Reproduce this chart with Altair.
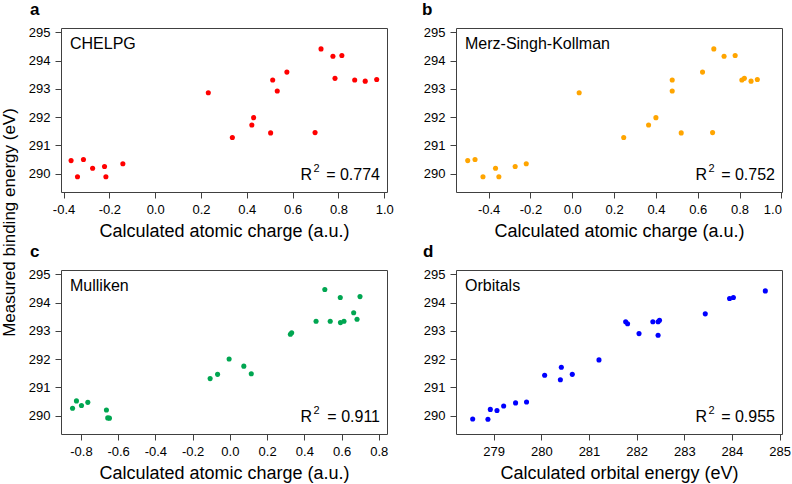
import altair as alt
import pandas as pd

# Measured C 1s binding energies against four computed descriptors
chelpg_charge = [-0.367, -0.339, -0.313, -0.273, -0.221, -0.215, -0.141, 0.232, 0.337, 0.422, 0.430,
                 0.504, 0.513, 0.533, 0.575, 0.698, 0.724, 0.776, 0.785, 0.815, 0.871, 0.917, 0.967]
chelpg_energy = [290.46, 289.89, 290.50, 290.19, 290.25, 289.89, 290.35, 292.86, 291.28, 291.72, 291.98,
                 291.44, 293.31, 292.92, 293.59, 291.45, 294.41, 294.15, 293.37, 294.18, 293.31, 293.27, 293.33]

msk_charge = [-0.500, -0.465, -0.427, -0.367, -0.351, -0.273, -0.220, 0.033, 0.246, 0.365, 0.400,
              0.478, 0.478, 0.521, 0.623, 0.671, 0.677, 0.726, 0.779, 0.811, 0.823, 0.855, 0.885]
msk_energy = [290.46, 290.50, 289.89, 290.19, 289.89, 290.25, 290.35, 292.86, 291.28, 291.72, 291.98,
              293.31, 292.92, 291.44, 293.59, 291.45, 294.41, 294.15, 294.18, 293.31, 293.37, 293.27, 293.33]

mulliken_charge = [-0.845, -0.824, -0.797, -0.763, -0.663, -0.656, -0.647, -0.106, -0.066, -0.004, 0.075,
                   0.115, 0.325, 0.332, 0.463, 0.510, 0.539, 0.593, 0.594, 0.613, 0.665, 0.683, 0.699]
mulliken_energy = [290.26, 290.52, 290.36, 290.47, 290.20, 289.92, 289.91, 291.31, 291.46, 292.00, 291.75,
                   291.48, 292.88, 292.93, 293.34, 294.46, 293.34, 294.18, 293.29, 293.34, 293.64, 293.41, 294.21]

orbital_energy = [278.56, 278.88, 278.93, 279.07, 279.21, 279.46, 279.69, 280.07, 280.40, 280.42, 280.65,
                  281.21, 281.77, 281.81, 282.05, 282.34, 282.45, 282.48, 282.45, 283.44, 283.95, 284.03, 284.70]
orbital_binding = [289.88, 289.87, 290.22, 290.18, 290.34, 290.45, 290.48, 291.43, 291.27, 291.71, 291.46,
                   291.97, 293.32, 293.25, 292.90, 293.32, 293.32, 293.37, 292.84, 293.60, 294.14, 294.18, 294.41]

charge_ticks = [-0.4, -0.2, 0.0, 0.2, 0.4, 0.6, 0.8, 1.0]
mulliken_ticks = [-0.8, -0.6, -0.4, -0.2, 0.0, 0.2, 0.4, 0.6, 0.8]
orbital_ticks = [279, 280, 281, 282, 283, 284, 285]
energy_ticks = [290, 291, 292, 293, 294, 295]

FONT = "Liberation Sans"
FRAME = "#404040"
W, H = 326, 164
Y_DOMAIN = [289.35, 295.15]


def panel(xs, ys, color, x_domain, x_ticks, x_fmt, x_title, letter, letter_dx, name, r2, y_title=None):
    df = pd.DataFrame({"x": xs, "y": ys})
    y_axis_kwargs = dict(values=energy_ticks, format="d")
    if y_title:
        y_axis_kwargs.update(title=y_title, titleX=-47, titleY=194, titleAngle=-90,
                             titleAlign="center", titleBaseline="alphabetic", titleFontSize=17)
    else:
        y_axis_kwargs.update(title=None)
    label_expr = f"replace(format(datum.value, '{x_fmt}'), '\u2212', '-')"
    pts = alt.Chart(df).mark_circle(size=26, color=color, opacity=1).encode(
        x=alt.X("x:Q", scale=alt.Scale(domain=x_domain, nice=False, zero=False),
                axis=alt.Axis(values=x_ticks, labelExpr=label_expr, title=x_title)),
        y=alt.Y("y:Q", scale=alt.Scale(domain=Y_DOMAIN, nice=False, zero=False),
                axis=alt.Axis(**y_axis_kwargs)),
    )
    one = pd.DataFrame({"k": [0]})
    name_txt = alt.Chart(one).mark_text(
        text=name, font=FONT, fontSize=16, align="left", baseline="middle", color="black"
    ).encode(x=alt.value(9), y=alt.value(16))
    r_txt = alt.Chart(one).mark_text(
        text="R", font=FONT, fontSize=16, align="right", baseline="alphabetic", color="black"
    ).encode(x=alt.value(W - 75), y=alt.value(H - 12))
    sup_txt = alt.Chart(one).mark_text(
        text="2", font=FONT, fontSize=11, align="right", baseline="alphabetic", color="black"
    ).encode(x=alt.value(W - 67.5), y=alt.value(H - 20))
    eq_txt = alt.Chart(one).mark_text(
        text=f"= {r2}", font=FONT, fontSize=16, align="right", baseline="alphabetic", color="black"
    ).encode(x=alt.value(W - 7), y=alt.value(H - 12))
    return alt.layer(pts, name_txt, r_txt, sup_txt, eq_txt).properties(
        width=W, height=H,
        title=alt.TitleParams(letter, anchor="start", frame="group", dx=letter_dx, offset=-6,
                              baseline="alphabetic", font=FONT, fontSize=17, fontWeight="bold",
                              color="black"),
    )


pa = panel(chelpg_charge, chelpg_energy, "#ff0000", [-0.411, 1.012], charge_ticks, ".1f",
           "Calculated atomic charge (a.u.)", "a", -31, "CHELPG", "0.774",
           y_title="Measured binding energy (eV)")
pb = panel(msk_charge, msk_energy, "#ffa500", [-0.556, 1.003], charge_ticks, ".1f",
           "Calculated atomic charge (a.u.)", "b", -34, "Merz-Singh-Kollman", "0.752")
pc = panel(mulliken_charge, mulliken_energy, "#00a651", [-0.907, 0.844], mulliken_ticks, ".1f",
           "Calculated atomic charge (a.u.)", "c", -31, "Mulliken", "0.911")
pd_ = panel(orbital_energy, orbital_binding, "#0000ff", [278.21, 285.05], orbital_ticks, "d",
            "Calculated orbital energy (eV)", "d", -33, "Orbitals", "0.955")

chart = alt.concat(
    pa, pb, pc, pd_, columns=2, spacing={"row": 78, "column": 69}, bounds="flush",
).properties(
    padding={"left": -1, "top": 0, "right": 0, "bottom": 0},
).configure_view(
    stroke=FRAME, strokeWidth=1
).configure_axis(
    domain=False, grid=False, ticks=True, tickSize=6, tickColor=FRAME, tickWidth=1,
    labelFont=FONT, labelFontSize=13, labelColor="black", labelPadding=5,
    titleFont=FONT, titleFontSize=18, titleFontWeight="normal", titleColor="black", titlePadding=6,
)

chart.save("out.html", embed_options={"renderer": "svg", "actions": False})
